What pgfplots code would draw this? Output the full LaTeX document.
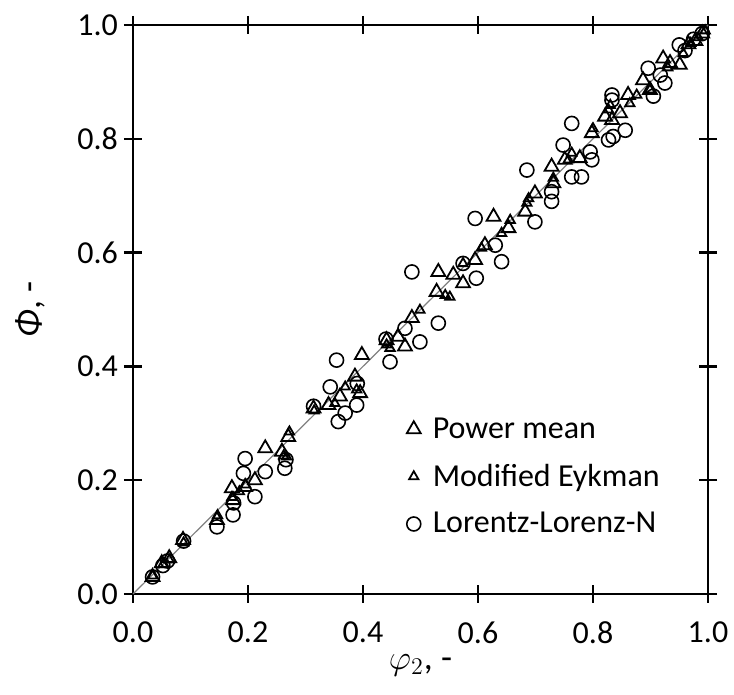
\documentclass[border=0pt]{standalone}
\usepackage{fontspec}
\setmainfont{Carlito}
\usepackage{pgfplots}
\pgfplotsset{compat=1.18}

\pgfplotstableread{
x y
0.034 0.030
0.050 0.054
0.063 0.063
0.087 0.095
0.146 0.130
0.172 0.186
0.174 0.165
0.195 0.188
0.212 0.200
0.230 0.256
0.259 0.250
0.270 0.276
0.314 0.326
0.340 0.332
0.360 0.347
0.386 0.382
0.395 0.353
0.398 0.420
0.441 0.446
0.461 0.452
0.473 0.435
0.485 0.485
0.528 0.531
0.531 0.566
0.557 0.561
0.574 0.546
0.595 0.587
0.612 0.613
0.627 0.663
0.653 0.643
0.682 0.672
0.699 0.704
0.728 0.751
0.731 0.722
0.751 0.763
0.777 0.766
0.798 0.810
0.821 0.839
0.833 0.833
0.847 0.845
0.861 0.877
0.887 0.903
0.899 0.886
0.922 0.941
0.934 0.933
0.951 0.930
0.966 0.966
0.978 0.972
0.990 0.985
}\powermean

\pgfplotstableread{
x y
0.034 0.032
0.052 0.052
0.063 0.060
0.088 0.090
0.147 0.138
0.172 0.170
0.185 0.180
0.196 0.192
0.262 0.243
0.267 0.241
0.272 0.285
0.315 0.322
0.351 0.335
0.369 0.364
0.389 0.359
0.441 0.438
0.447 0.432
0.499 0.499
0.543 0.525
0.551 0.522
0.574 0.581
0.606 0.608
0.641 0.634
0.656 0.657
0.685 0.687
0.688 0.695
0.731 0.731
0.757 0.763
0.763 0.775
0.800 0.818
0.827 0.851
0.830 0.859
0.864 0.862
0.876 0.877
0.899 0.886
0.930 0.925
0.957 0.950
0.970 0.968
0.983 0.978
0.995 0.990
}\eykman

\pgfplotstableread{
x y
0.034 0.030
0.052 0.050
0.060 0.058
0.088 0.093
0.146 0.118
0.174 0.139
0.175 0.160
0.195 0.238
0.192 0.212
0.212 0.171
0.230 0.215
0.264 0.221
0.266 0.236
0.314 0.330
0.343 0.364
0.354 0.411
0.357 0.303
0.369 0.318
0.389 0.332
0.390 0.370
0.440 0.448
0.447 0.408
0.473 0.467
0.485 0.566
0.499 0.443
0.531 0.476
0.574 0.581
0.595 0.660
0.597 0.555
0.630 0.613
0.641 0.584
0.685 0.745
0.699 0.654
0.728 0.707
0.728 0.690
0.748 0.789
0.763 0.827
0.763 0.733
0.780 0.733
0.795 0.777
0.798 0.763
0.827 0.798
0.833 0.877
0.833 0.868
0.835 0.804
0.856 0.815
0.896 0.924
0.917 0.912
0.925 0.898
0.905 0.875
0.950 0.965
0.960 0.955
0.975 0.975
0.990 0.985
}\lorentz

\begin{document}
\begin{tikzpicture}
\useasboundingbox (-66.5pt,-50.5pt) rectangle (300.5pt,297pt);
\begin{axis}[
  scale only axis,
  width=287.5pt, height=284.5pt,
  xmin=0, xmax=1, ymin=0, ymax=1,
  xtick={0,0.2,...,1.0}, ytick={0,0.2,...,1.0},
  tick align=center,
  major tick length=9pt,
  axis line style={line width=1.2pt},
  every tick/.style={black, line width=1.2pt},
  /pgf/number format/.cd, fixed, fixed zerofill, precision=1, assume math mode=true,
  /pgfplots/.cd,
  ticklabel style={font=\fontsize{16}{19}\selectfont},
  xticklabel style={yshift=-6pt},
  yticklabel style={xshift=0.5pt},
  xlabel={$\varphi_2$, -},
  ylabel={\textit{Φ}, -},
  label style={font=\fontsize{18}{21}\selectfont},
  xlabel style={at={(axis description cs:0.5,-0.125)}, anchor=center},
  ylabel style={at={(axis description cs:-0.178,0.5)}, anchor=center},
  legend style={draw=none, fill=none, at={(axis cs:0.465,0.325)}, anchor=north west,
    font=\fontsize{16}{19}\selectfont, row sep=7.5pt,
    /tikz/every odd column/.append style={column sep=4pt}},
  legend cell align=left,
  clip=false,
]
\addplot[gray, line width=0.6pt, forget plot] coordinates {(0,0) (1,1)};
\addplot[only marks, mark=triangle, mark size=4pt, mark options={black, line width=0.9pt}] table[x=x,y=y] {\powermean};
\addlegendentry{Power mean}
\addplot[only marks, mark=triangle, mark size=2.7pt, mark options={black, line width=0.9pt}] table[x=x,y=y] {\eykman};
\addlegendentry{Modified Eykman}
\addplot[only marks, mark=o, mark size=3.5pt, mark options={black, line width=0.8pt}] table[x=x,y=y] {\lorentz};
\addlegendentry{Lorentz-Lorenz-N}
\end{axis}
\end{tikzpicture}
\end{document}
